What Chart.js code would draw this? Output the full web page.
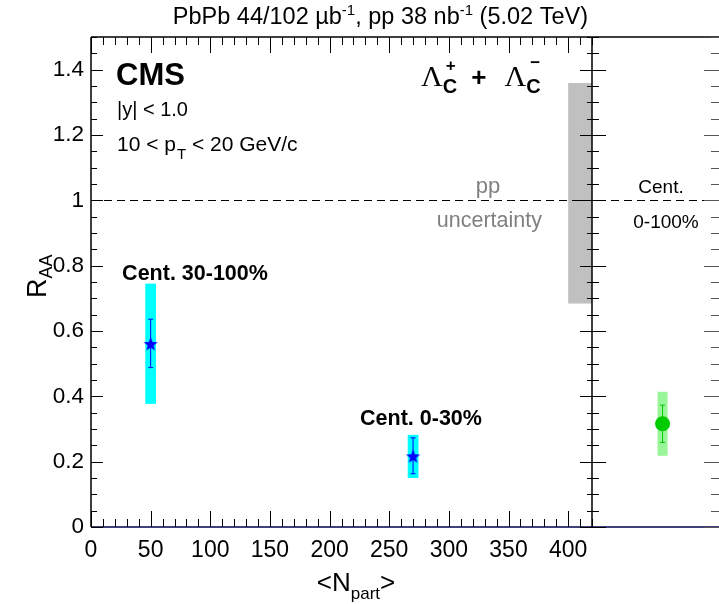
<!DOCTYPE html>
<html>
<head>
<meta charset="utf-8">
<script src="https://cdn.jsdelivr.net/npm/chart.js@4.4.1/dist/chart.umd.min.js"></script>
<style>
  html, body { margin: 0; padding: 0; background: #fff; }
</style>
</head>
<body>
<canvas id="raaChart" width="719" height="604"></canvas>
<script>
// values
const centLabels = ['Cent. 30-100%', 'Cent. 0-30%'];
const npart   = [50, 270];
const raa     = [0.562, 0.218];
const statErr = [0.074, 0.055];
const sysLo   = [0.377, 0.150];
const sysHi   = [0.745, 0.282];

// integrated 0-100% point (right panel)
const mbPos   = [0.56];
const mbRaa   = [0.316];
const mbStat  = [0.057];
const mbSysLo = [0.218];
const mbSysHi = [0.414];

// pp normalisation uncertainty band around unity
const ppUncY = [0.684, 1.359];
const ppUncX = [400, 420];

const xTicks = [0, 50, 100, 150, 200, 250, 300, 350, 400];
const yTicks = [0, 0.2, 0.4, 0.6, 0.8, 1, 1.2, 1.4];

const FONT = '"Liberation Sans", Arial, Helvetica, sans-serif';
const SERIF = '"Liberation Serif", "Times New Roman", serif';

// filled 5 point star for the marker
function makeStar(color, R) {
    const c = document.createElement('canvas');
    const s = Math.ceil(R * 2 + 2);
    c.width = s; c.height = s;
    const g = c.getContext('2d');
    const r = R * 0.42;
    g.beginPath();
    for (let i = 0; i < 10; i++) {
        const a = -Math.PI / 2 + i * Math.PI / 5;
        const rr = i % 2 === 0 ? R : r;
        const px = s / 2 + rr * Math.cos(a), py = s / 2 + 1 + rr * Math.sin(a);
        i === 0 ? g.moveTo(px, py) : g.lineTo(px, py);
    }
    g.closePath();
    g.fillStyle = color;
    g.fill();
    return c;
}

function txt(ctx, s, x, y, size, opts) {
    opts = opts || {};
    ctx.font = (opts.bold ? 'bold ' : '') + size + 'px ' + (opts.family || FONT);
    ctx.fillStyle = opts.color || '#000';
    ctx.textAlign = opts.align || 'left';
    ctx.textBaseline = 'alphabetic';
    ctx.fillText(s, x, y);
    return ctx.measureText(s).width;
}

function measure(ctx, s, size, bold) {
    ctx.font = (bold ? 'bold ' : '') + size + 'px ' + FONT;
    return ctx.measureText(s).width;
}

function errBar(ctx, x, y1, y2, cap, color) {
    ctx.strokeStyle = color;
    ctx.lineWidth = 1;
    ctx.beginPath();
    ctx.moveTo(x, y1); ctx.lineTo(x, y2);
    ctx.moveTo(x - cap, y1); ctx.lineTo(x + cap, y1);
    ctx.moveTo(x - cap, y2); ctx.lineTo(x + cap, y2);
    ctx.stroke();
}

const rootStyle = {
    id: 'rootStyle',
    beforeDatasetsDraw(chart) {
        const ctx = chart.ctx, xs = chart.scales.x, x2 = chart.scales.x2, ys = chart.scales.y;
        const a = chart.chartArea;
        ctx.save();
        // pp band
        ctx.fillStyle = '#c0c0c0';
        const bx1 = xs.getPixelForValue(ppUncX[0]), bx2 = xs.getPixelForValue(ppUncX[1]);
        const by1 = ys.getPixelForValue(ppUncY[1]), by2 = ys.getPixelForValue(ppUncY[0]);
        ctx.fillRect(bx1, by1, bx2 - bx1, by2 - by1);

        // dashed unity line across both panels
        ctx.strokeStyle = '#000';
        ctx.lineWidth = 1;
        ctx.setLineDash([8, 5]);
        const y1 = Math.round(ys.getPixelForValue(1)) + 0.5;
        ctx.beginPath(); ctx.moveTo(a.left, y1); ctx.lineTo(a.right, y1); ctx.stroke();
        ctx.setLineDash([]);

        // systematic boxes and stat bars
        npart.forEach((n, i) => {
            const px = xs.getPixelForValue(n);
            const hw = xs.getPixelForValue(n + 4.5) - px;
            const t = ys.getPixelForValue(sysHi[i]), b = ys.getPixelForValue(sysLo[i]);
            ctx.fillStyle = '#00ffff';
            ctx.fillRect(px - hw, t, hw * 2, b - t);
            errBar(ctx, px, ys.getPixelForValue(raa[i] + statErr[i]), ys.getPixelForValue(raa[i] - statErr[i]), 2.5, '#0000ff');
        });
        mbPos.forEach((p, i) => {
            const px = x2.getPixelForValue(p);
            const hw = x2.getPixelForValue(p + 0.04) - px;
            const t = ys.getPixelForValue(mbSysHi[i]), b = ys.getPixelForValue(mbSysLo[i]);
            ctx.fillStyle = '#99f599';
            ctx.fillRect(px - hw, t, hw * 2, b - t);
            errBar(ctx, px, ys.getPixelForValue(mbRaa[i] + mbStat[i]), ys.getPixelForValue(mbRaa[i] - mbStat[i]), 2.5, '#00cc00');
        });
        ctx.restore();
    },
    afterDraw(chart) {
        const ctx = chart.ctx, xs = chart.scales.x, ys = chart.scales.y;
        const a = chart.chartArea;
        const mid = xs.right;
        ctx.save();

        // frame
        ctx.strokeStyle = '#000';
        ctx.lineWidth = 1.5;
        ctx.beginPath();
        ctx.moveTo(a.left, a.top); ctx.lineTo(a.right + 2, a.top);
        ctx.moveTo(a.left, a.top); ctx.lineTo(a.left, a.bottom);
        ctx.moveTo(mid, a.top); ctx.lineTo(mid, a.bottom);
        ctx.stroke();
        ctx.strokeStyle = '#000050';
        ctx.beginPath(); ctx.moveTo(a.left, a.bottom); ctx.lineTo(a.right + 2, a.bottom); ctx.stroke();

        // ticks, pointing inward
        ctx.lineWidth = 1;
        ctx.strokeStyle = '#000';
        ctx.beginPath();
        for (let v = 0; v <= 420; v += 10) {
            const px = Math.round(xs.getPixelForValue(v)) + 0.5;
            const L = v % 50 === 0 ? 16 : 8;
            ctx.moveTo(px, a.bottom); ctx.lineTo(px, a.bottom - L);
            ctx.moveTo(px, a.top); ctx.lineTo(px, a.top + L);
        }
        for (let k = 0; k <= 30; k++) {
            const py = Math.round(ys.getPixelForValue(k * 0.05)) + 0.5;
            const major = k % 4 === 0;
            ctx.moveTo(a.left, py); ctx.lineTo(a.left + (major ? 12 : 6), py);
            ctx.moveTo(mid, py); ctx.lineTo(mid - (major ? 12 : 5), py);
            ctx.moveTo(mid, py); ctx.lineTo(mid + (major ? 14 : 7), py);
        }
        ctx.stroke();
        ctx.strokeStyle = '#555';
        ctx.beginPath();
        for (let k = 0; k <= 30; k++) {
            const py = Math.round(ys.getPixelForValue(k * 0.05)) + 0.5;
            ctx.moveTo(a.right + 1, py); ctx.lineTo(a.right - (k % 4 === 0 ? 14 : 7), py);
        }
        ctx.stroke();

        // header
        const parts = [['PbPb 44/102 \u00b5b', 0], ['-1', 1], [', pp 38 nb', 0], ['-1', 1], [' (5.02 TeV)', 0]];
        let w = 0;
        parts.forEach(p => { w += measure(ctx, p[0], p[1] ? 15 : 23.5); });
        let x = 588 - w;
        parts.forEach(p => { x += txt(ctx, p[0], x, p[1] ? 15 : 24, p[1] ? 15 : 23.5); });

        // labels inside the frame
        txt(ctx, 'CMS', 116, 85, 31, { bold: true });
        txt(ctx, '|y| < 1.0', 117, 116, 20);
        let tx = 117;
        tx += txt(ctx, '10 < p', tx, 151, 21);
        tx += txt(ctx, 'T', tx + 1, 159, 15) + 1;
        txt(ctx, ' < 20 GeV/c', tx, 151, 21);

        // Lambda_c^+ + Lambda_c^-
        tx = 421;
        tx += txt(ctx, '\u039b', tx, 86, 30, { family: SERIF });
        txt(ctx, '+', tx + 3, 71, 17, { bold: true });
        tx += txt(ctx, 'C', tx, 93, 20, { bold: true });
        tx += 14;
        tx += txt(ctx, '+', tx, 86, 26, { bold: true });
        tx += 18;
        tx += txt(ctx, '\u039b', tx, 86, 30, { family: SERIF });
        txt(ctx, '\u2212', tx + 4, 68, 17, { bold: true });
        txt(ctx, 'C', tx, 93, 20, { bold: true });

        txt(ctx, 'pp', 488, 193, 22, { color: '#808080', align: 'center' });
        txt(ctx, 'uncertainty', 542, 227, 21.5, { color: '#808080', align: 'right' });
        txt(ctx, 'Cent.', 661, 193, 19, { align: 'center' });
        txt(ctx, '0-100%', 666, 228, 19, { align: 'center' });

        const lblX = [195, 421], lblY = [280, 425];
        centLabels.forEach((s, i) => txt(ctx, s, lblX[i], lblY[i], 21.5, { bold: true, align: 'center' }));

        // axis titles
        const tw = measure(ctx, '<N', 26) + measure(ctx, 'part', 17) + measure(ctx, '>', 26);
        tx = 356 - tw / 2;
        tx += txt(ctx, '<N', tx, 591, 26);
        tx += txt(ctx, 'part', tx, 599, 17);
        txt(ctx, '>', tx, 591, 26);

        ctx.translate(46, 298);
        ctx.rotate(-Math.PI / 2);
        tx = 0;
        tx += txt(ctx, 'R', tx, 0, 27);
        txt(ctx, 'AA', tx, 6, 18);
        ctx.restore();
    }
};

function noPad(s, h) {
    s.height = h;
    s.paddingLeft = 0;
    s.paddingRight = 0;
}

const ctx = document.getElementById('raaChart').getContext('2d');
const chartInstance = new Chart(ctx, {
    type: 'scatter',
    data: {
        datasets: [
            {
                label: 'Lambda_c R_AA vs Npart',
                data: npart.map((n, i) => ({ x: n, y: raa[i] })),
                xAxisID: 'x',
                pointStyle: makeStar('#0000ff', 7.5),
                pointRadius: 7.5,
                backgroundColor: '#0000ff',
                borderColor: '#0000ff'
            },
            {
                label: 'Cent. 0-100%',
                data: mbPos.map((p, i) => ({ x: p, y: mbRaa[i] })),
                xAxisID: 'x2',
                pointStyle: 'circle',
                pointRadius: 7.5,
                borderWidth: 0,
                backgroundColor: '#00cc00',
                borderColor: '#00cc00'
            }
        ]
    },
    options: {
        responsive: false,
        animation: false,
        layout: { autoPadding: false, padding: { top: 37, right: 1, left: 0, bottom: 0 } },
        plugins: { legend: { display: false }, tooltip: { enabled: false }, title: { display: false } },
        scales: {
            x: {
                type: 'linear', position: 'bottom', stack: 'bot', stackWeight: 501,
                min: 0, max: 420,
                grid: { display: false, drawTicks: false }, border: { display: false },
                ticks: { color: '#000', font: { size: 23, family: FONT }, padding: 10, maxRotation: 0, autoSkip: false },
                afterBuildTicks: s => { s.ticks = xTicks.map(v => ({ value: v })); },
                afterFit: s => noPad(s, 77)
            },
            x2: {
                type: 'linear', position: 'bottom', stack: 'bot', stackWeight: 126,
                min: 0, max: 1,
                grid: { display: false, drawTicks: false }, border: { display: false },
                ticks: { display: false },
                afterFit: s => noPad(s, 77)
            },
            y: {
                type: 'linear', min: 0, max: 1.5,
                grid: { display: false, drawTicks: false }, border: { display: false },
                ticks: { color: '#000', font: { size: 22.5, family: FONT }, padding: 7, callback: v => String(v) },
                afterBuildTicks: s => { s.ticks = yTicks.map(v => ({ value: v })); },
                afterFit: s => { s.width = 91; }
            }
        }
    },
    plugins: [rootStyle]
});
</script>
</body>
</html>
